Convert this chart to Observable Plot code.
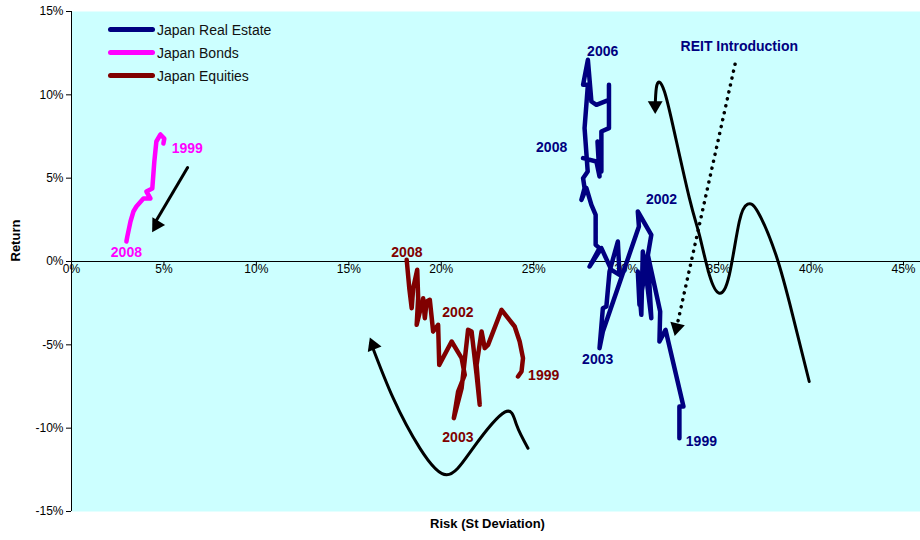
<!DOCTYPE html>
<html>
<head>
<meta charset="utf-8">
<script src="https://cdn.jsdelivr.net/npm/d3@7"></script>
<script src="https://cdn.jsdelivr.net/npm/@observablehq/plot@0.6"></script>
<style>
  html, body { margin: 0; padding: 0; background: #fff; }
  #wrap { position: relative; width: 920px; height: 540px; font-family: "Liberation Sans", Arial, sans-serif; }
  #legend { position: absolute; left: 108px; top: 18px; font-size: 14px; color: #111; }
  #legend .row { height: 23px; display: flex; align-items: center; }
  #legend .sw { width: 47px; height: 5px; border-radius: 3px; margin-right: 2px; }
</style>
</head>
<body>
<div id="wrap">
  <div id="chart"></div>
  <div id="legend"></div>
</div>
<script>
// ---- Data (risk %, return %) ----
const seriesNames = ["Japan Real Estate", "Japan Bonds", "Japan Equities"];
const seriesColors = ["#000080", "#ff00ff", "#800000"];

const realEstateRisk = [32.88, 32.88, 33.10, 32.13, 31.80, 31.84, 31.17, 31.36, 31.12, 30.90, 30.82, 30.63, 30.72, 31.36, 30.63, 30.69, 28.74, 28.56, 28.74, 28.93, 29.10, 29.55, 29.64, 29.20, 28.66, 28.02, 28.56, 28.35, 28.35, 28.12, 27.85, 27.58, 27.75, 27.67, 27.92, 27.75, 27.93, 27.67, 27.93, 28.12, 28.39, 29.07, 29.07, 29.07, 28.66, 28.66, 28.45, 28.56, 28.39, 27.67];
const realEstateReturn = [-10.60, -8.70, -8.70, -4.10, -4.80, -3.00, 0.40, -3.40, -1.20, 0.60, -3.20, -0.60, -2.60, 1.60, 3.00, 2.10, -4.20, -5.20, -2.80, -2.70, -0.60, 1.20, -0.80, -0.50, 0.80, -0.30, 0.80, 1.00, 2.80, 3.40, 4.40, 3.70, 4.40, 5.00, 5.40, 8.00, 10.60, 10.60, 12.10, 9.60, 9.40, 9.70, 10.60, 8.00, 7.80, 5.40, 7.20, 5.10, 6.00, 6.20];

const bondsRisk = [4.97, 5.02, 4.81, 4.59, 4.48, 4.37, 4.05, 4.27, 3.89, 3.51, 3.35, 3.19, 3.02, 2.97];
const bondsReturn = [7.08, 7.38, 7.62, 7.20, 6.00, 4.38, 4.20, 3.78, 3.78, 3.30, 3.00, 2.40, 1.50, 1.20];

const equitiesRisk = [24.15, 24.34, 24.42, 24.24, 23.97, 23.26, 22.53, 22.35, 22.18, 21.91, 22.08, 21.91, 21.64, 21.45, 21.10, 20.68, 20.91, 21.27, 21.10, 20.56, 19.89, 19.83, 19.56, 19.38, 19.21, 19.11, 19.02, 18.67, 18.75, 18.70, 18.48, 18.40, 18.27, 18.13];
const equitiesReturn = [-6.90, -6.60, -5.80, -4.80, -3.90, -2.90, -5.00, -5.20, -4.20, -6.20, -8.60, -6.80, -4.20, -4.10, -7.60, -9.40, -7.80, -6.80, -5.80, -4.80, -6.20, -3.80, -4.20, -2.30, -2.40, -3.40, -2.20, -3.80, -2.20, -0.50, -1.60, -2.80, -1.60, 0.10];

// year labels
const labelText  = ["2006", "2008", "2002", "2003", "1999", "2008", "2002", "2003", "1999", "1999", "2008", "REIT Introduction"];
const labelRisk  = [28.73, 25.97, 31.91, 28.46, 34.07, 18.14, 20.90, 20.90, 25.54, 6.26, 2.97, 36.12];
const labelRet   = [12.60, 6.84, 3.72, -5.88, -10.80, 0.54, -3.06, -10.56, -6.84, 6.78, 0.54, 12.90];
const labelColor = ["#000080", "#000080", "#000080", "#000080", "#000080", "#800000", "#800000", "#800000", "#800000", "#ff00ff", "#ff00ff", "#000080"];

// annotation arrows (hand-drawn curves in the picture)
const bondArrowRisk = [6.28, 4.50];
const bondArrowRet  = [5.64, 2.30];
const eqCurveRisk = [16.20, 17.40, 18.84, 20.29, 21.72, 23.43, 24.07, 24.69];
const eqCurveRet  = [-4.90, -8.20, -11.20, -12.80, -11.20, -9.04, -9.80, -11.20];
const reCurveRisk = [31.57, 31.63, 31.80, 32.07, 32.52, 33.42, 33.96, 34.50, 35.04, 35.58, 36.12, 36.57, 37.11, 38.10, 39.00, 39.90];
const reCurveRet  = [9.30, 10.40, 10.76, 10.20, 8.20, 3.80, 1.60, -0.80, -1.90, -0.80, 2.40, 3.44, 3.00, 0.40, -3.20, -7.20];
const reitRisk = [35.89, 32.80];
const reitRet  = [11.84, -3.60];
// arrow heads: centre position and direction (degrees clockwise from up)
const headRisk = [4.60, 16.31, 31.57, 32.73];
const headRet  = [2.20, -5.03, 9.36, -3.97];
const headAngle = [211, 338, 180, 193];

const xTicks = [0, 5, 10, 15, 20, 25, 30, 35, 40, 45];
const yTicks = [-15, -10, -5, 0, 5, 10, 15];

// ---- build tables ----
const zip = (xs, ys) => xs.map((x, i) => ({x, y: ys[i]}));
const re = zip(realEstateRisk, realEstateReturn);
const bonds = zip(bondsRisk, bondsReturn);
const eq = zip(equitiesRisk, equitiesReturn);
const labels = labelText.map((t, i) => ({t, x: labelRisk[i], y: labelRet[i], c: labelColor[i]}));
const heads = headRisk.map((x, i) => ({x, y: headRet[i], a: headAngle[i]}));

const chart = Plot.plot({
  width: 920,
  height: 540,
  marginLeft: 71,
  marginRight: 0,
  marginTop: 11,
  marginBottom: 29,
  style: {fontFamily: "'Liberation Sans', Arial, sans-serif", fontSize: "12px", background: "transparent", overflow: "visible"},
  x: {domain: [0, 45.92], label: null},
  y: {domain: [-15, 15], label: null},
  marks: [
    Plot.frame({fill: "#ccffff", stroke: null}),
    Plot.axisY({ticks: yTicks, tickFormat: d => d + "%", tickSize: 5, tickPadding: 3, fontSize: 12, label: null, color: "#000"}),
    Plot.axisX({ticks: [], label: null, tickSize: 0}),
    Plot.ruleX([0], {stroke: "#000", strokeWidth: 1}),
    Plot.ruleY([0], {stroke: "#000", strokeWidth: 1}),
    Plot.ruleX(xTicks, {x: d => d, y1: 0, y2: -0.28, stroke: "#000"}),
    Plot.text(xTicks, {x: d => d, y: 0, text: d => d + "%", dy: 3, lineAnchor: "top", fontSize: 12, fill: "#000"}),
    // annotation arrows
    Plot.line(zip(bondArrowRisk, bondArrowRet), {x: "x", y: "y", stroke: "#000", strokeWidth: 3}),
    Plot.line(zip(eqCurveRisk, eqCurveRet), {x: "x", y: "y", stroke: "#000", strokeWidth: 3, curve: "natural"}),
    Plot.line(zip(reCurveRisk, reCurveRet), {x: "x", y: "y", stroke: "#000", strokeWidth: 3, curve: "natural"}),
    Plot.line(zip(reitRisk, reitRet), {x: "x", y: "y", stroke: "#000", strokeWidth: 3.5, strokeDasharray: "0.1,7", strokeLinecap: "round"}),
    Plot.dot(heads, {x: "x", y: "y", symbol: "triangle", r: 5.5, fill: "#000", stroke: null, rotate: "a"}),
    // data series
    Plot.line(bonds, {x: "x", y: "y", stroke: seriesColors[1], strokeWidth: 4.5, strokeLinejoin: "round", strokeLinecap: "round"}),
    Plot.line(eq, {x: "x", y: "y", stroke: seriesColors[2], strokeWidth: 4.5, strokeLinejoin: "round", strokeLinecap: "round"}),
    Plot.line(re, {x: "x", y: "y", stroke: seriesColors[0], strokeWidth: 4.5, strokeLinejoin: "round", strokeLinecap: "round"}),
    // labels
    Plot.text(labels, {x: "x", y: "y", text: "t", fill: "c", fontSize: 14, fontWeight: "bold"}),
    // axis titles
    Plot.text(["Return"], {frameAnchor: "left", dx: -56, rotate: -90, fontSize: 13, fontWeight: "bold", fill: "#000"}),
    Plot.text(["Risk (St Deviation)"], {frameAnchor: "bottom", x: 22.5, dy: 16, fontSize: 13, fontWeight: "bold", fill: "#000"})
  ]
});
document.getElementById("chart").appendChild(chart);

const legend = document.getElementById("legend");
seriesNames.forEach((n, i) => {
  const row = document.createElement("div");
  row.className = "row";
  const sw = document.createElement("div");
  sw.className = "sw";
  sw.style.background = seriesColors[i];
  const tx = document.createElement("span");
  tx.textContent = n;
  row.appendChild(sw);
  row.appendChild(tx);
  legend.appendChild(row);
});
</script>
</body>
</html>
